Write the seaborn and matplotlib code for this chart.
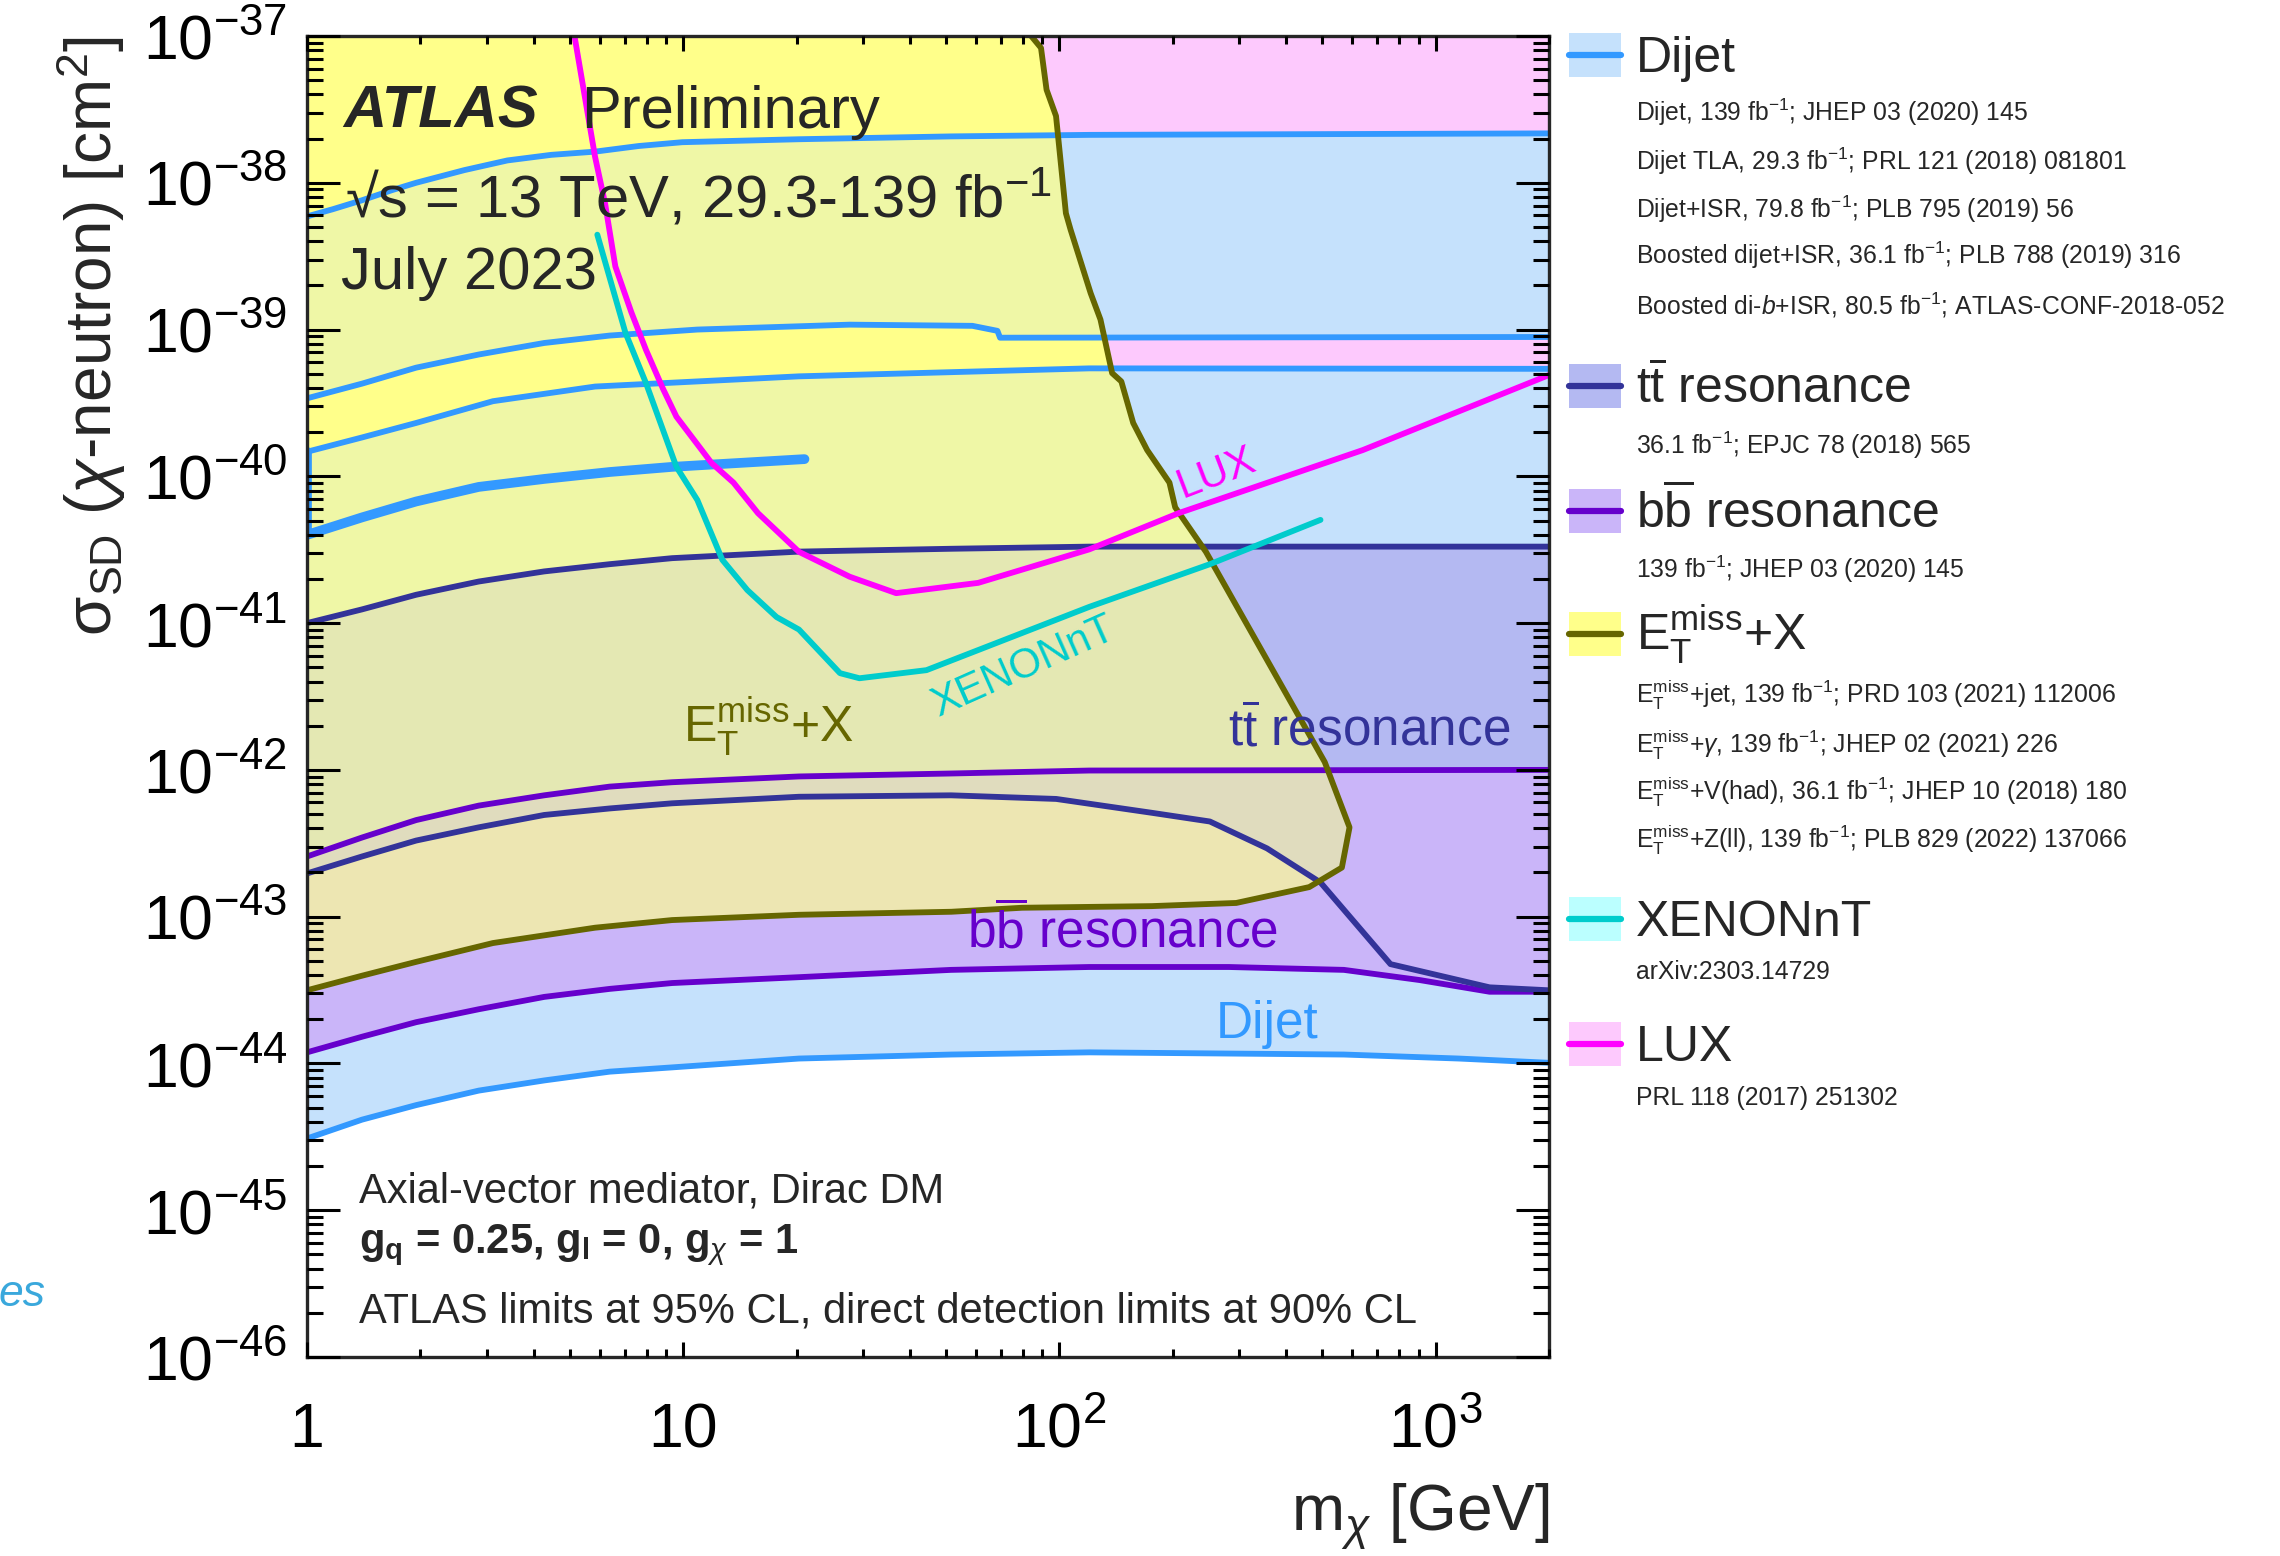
import numpy as np
import seaborn as sns
import matplotlib.pyplot as plt
from matplotlib.patches import Polygon, Rectangle
from matplotlib.lines import Line2D
from matplotlib.ticker import FixedLocator, FixedFormatter, LogLocator, NullFormatter

# --- values (m_chi in GeV, sigma_SD in cm^2) ---
dijet_a_top_x = [1, 1.17, 1.40, 1.68, 1.95, 2.62, 3.41, 4.46, 5.83, 7.61, 9.94, 20.3, 51.5, 120, 2000]
dijet_a_top_y = [5.9e-39, 6.6e-39, 7.6e-39, 8.9e-39, 1.0e-38, 1.22e-38, 1.42e-38, 1.55e-38, 1.63e-38,
                 1.78e-38, 1.89e-38, 1.98e-38, 2.07e-38, 2.12e-38, 2.17e-38]
dijet_a_bot_x = [1, 1.40, 1.95, 2.86, 4.27, 6.37, 10.9, 27.7, 58.7, 68.4, 69.5, 2000]
dijet_a_bot_y = [3.4e-40, 4.28e-40, 5.5e-40, 6.76e-40, 8.1e-40, 9.1e-40, 1.0e-39, 1.08e-39, 1.06e-39,
                 9.8e-40, 8.8e-40, 8.9e-40]
dijet_b_top_x = [1, 1.40, 1.95, 3.12, 5.83, 20.3, 120, 2000]
dijet_b_top_y = [1.47e-40, 1.84e-40, 2.31e-40, 3.25e-40, 4.09e-40, 4.8e-40, 5.44e-40, 5.4e-40]
dijet_isr_x = [1, 1, 1.40, 1.95, 2.86, 4.27, 6.37, 9.34, 21.0]
dijet_isr_y = [1.47e-40, 3.99e-41, 5.25e-41, 6.74e-41, 8.47e-41, 9.6e-41, 1.07e-40, 1.16e-40, 1.31e-40]
dijet_b_bot_x = [1, 1.40, 1.95, 2.86, 4.27, 6.37, 9.34, 20.3, 51.5, 120, 570, 1152, 2000]
dijet_b_bot_y = [3.08e-45, 4.14e-45, 5.2e-45, 6.53e-45, 7.66e-45, 8.79e-45, 9.4e-45, 1.08e-44, 1.15e-44,
                 1.19e-44, 1.15e-44, 1.08e-44, 1.01e-44]

tt_top_x = [1, 1.40, 1.95, 2.86, 4.27, 6.37, 9.34, 20.3, 51.5, 120, 2000]
tt_top_y = [1.0e-41, 1.24e-41, 1.56e-41, 1.92e-41, 2.25e-41, 2.52e-41, 2.77e-41, 3.07e-41, 3.21e-41,
            3.32e-41, 3.32e-41]
tt_bot_x = [1, 1.40, 1.95, 2.86, 4.27, 6.37, 9.34, 20.3, 51.5, 98, 176, 251, 356, 494, 758, 1390, 2000]
tt_bot_y = [1.97e-43, 2.57e-43, 3.3e-43, 4.06e-43, 4.93e-43, 5.46e-43, 5.92e-43, 6.56e-43, 6.71e-43,
            6.34e-43, 5.1e-43, 4.45e-43, 2.92e-43, 1.71e-43, 4.75e-44, 3.3e-44, 3.15e-44]

bb_top_x = [1, 1.40, 1.95, 2.86, 4.27, 6.37, 9.34, 20.3, 51.5, 120, 2000]
bb_top_y = [2.57e-43, 3.46e-43, 4.55e-43, 5.71e-43, 6.71e-43, 7.69e-43, 8.24e-43, 9.02e-43, 9.45e-43,
            9.9e-43, 1.0e-42]
bb_bot_x = [1, 1.40, 1.95, 2.86, 4.27, 6.37, 9.34, 20.3, 51.5, 120, 282, 570, 906, 1390, 2000]
bb_bot_y = [1.19e-44, 1.52e-44, 1.91e-44, 2.34e-44, 2.84e-44, 3.22e-44, 3.53e-44, 3.87e-44, 4.34e-44,
            4.54e-44, 4.54e-44, 4.34e-44, 3.7e-44, 3.08e-44, 3.08e-44]

met_x = [84.1, 89.3, 92.4, 97.9, 104, 107, 121, 128.5, 138, 146, 157, 171, 196, 203, 245,
         507, 590, 563, 461, 295, 176, 79.5, 51.6, 20.3, 9.34, 5.83, 3.12, 1.95, 1.40, 1]
met_y = [1e-37, 8.3e-38, 4.3e-38, 2.85e-38, 6.2e-39, 4.8e-39, 1.77e-39, 1.17e-39, 5.05e-40,
         4.43e-40, 2.31e-40, 1.51e-40, 9.06e-41, 6.15e-41, 3.06e-41, 1.13e-42, 4.06e-43,
         2.16e-43, 1.59e-43, 1.24e-43, 1.18e-43, 1.15e-43, 1.08e-43, 1.03e-43, 9.48e-44,
         8.41e-44, 6.61e-44, 4.92e-44, 3.96e-44, 3.15e-44]

lux_x = [5.14, 5.83, 6.2, 6.6, 7.28, 7.96, 8.85, 9.59, 11.9, 13.6, 15.8, 20.3, 27.7, 36.8, 60.8,
         120, 208, 640, 2000]
lux_y = [1e-37, 1.5e-38, 7.2e-39, 2.69e-39, 1.31e-39, 7.28e-40, 3.91e-40, 2.55e-40, 1.23e-40,
         9.06e-41, 5.61e-41, 3.06e-41, 2.07e-41, 1.6e-41, 1.88e-41, 3.18e-41, 5.63e-41, 1.51e-40, 4.9e-40]

xenon_x = [5.91, 7.02, 7.96, 9.59, 10.9, 12.7, 14.8, 17.7, 20.3, 26.1, 29.4, 44.3, 120, 251, 494]
xenon_y = [4.43e-39, 9.51e-40, 4.32e-40, 1.16e-40, 6.9e-41, 2.7e-41, 1.68e-41, 1.1e-41, 9.04e-42,
           4.56e-42, 4.21e-42, 4.78e-42, 1.29e-41, 2.52e-41, 5.05e-41]

xtick_vals = [1, 10, 100, 1000]
xtick_labels = ["1", "10", "$10^{2}$", "$10^{3}$"]
ytick_vals = [1e-46, 1e-45, 1e-44, 1e-43, 1e-42, 1e-41, 1e-40, 1e-39, 1e-38, 1e-37]
ytick_labels = ["$10^{-46}$", "$10^{-45}$", "$10^{-44}$", "$10^{-43}$", "$10^{-42}$",
                "$10^{-41}$", "$10^{-40}$", "$10^{-39}$", "$10^{-38}$", "$10^{-37}$"]

tt_label = r"t$\overline{\mathrm{t}}$ resonance"
bb_label = r"b$\overline{\mathrm{b}}$ resonance"
met_label = r"$\mathrm{E_{T}^{miss}}$+X"
legend_titles = ["Dijet", tt_label, bb_label, met_label, "XENONnT", "LUX"]
dijet_refs = [r"Dijet, 139 fb$^{-1}$; JHEP 03 (2020) 145",
              r"Dijet TLA, 29.3 fb$^{-1}$; PRL 121 (2018) 081801",
              r"Dijet+ISR, 79.8 fb$^{-1}$; PLB 795 (2019) 56",
              r"Boosted dijet+ISR, 36.1 fb$^{-1}$; PLB 788 (2019) 316",
              r"Boosted di-$b$+ISR, 80.5 fb$^{-1}$; ATLAS-CONF-2018-052"]
tt_refs = [r"36.1 fb$^{-1}$; EPJC 78 (2018) 565"]
bb_refs = [r"139 fb$^{-1}$; JHEP 03 (2020) 145"]
met_refs = [r"$\mathrm{E_{T}^{miss}}$+jet, 139 fb$^{-1}$; PRD 103 (2021) 112006",
            r"$\mathrm{E_{T}^{miss}}$+$\gamma$, 139 fb$^{-1}$; JHEP 02 (2021) 226",
            r"$\mathrm{E_{T}^{miss}}$+V(had), 36.1 fb$^{-1}$; JHEP 10 (2018) 180",
            r"$\mathrm{E_{T}^{miss}}$+Z(ll), 139 fb$^{-1}$; PLB 829 (2022) 137066"]
xenon_refs = ["arXiv:2303.14729"]
lux_refs = ["PRL 118 (2017) 251302"]

# --- colours ---
c_dijet, f_dijet = "#3399ff", "#c5e1fc"
c_tt, f_tt = "#333399", "#b4b9f2"
c_bb, f_bb = "#6600cc", "#cab5f9"
c_met, f_met = "#666600", "#ffff8a"
c_xenon, f_xenon = "#00cccc", "#bbffff"
c_lux, f_lux = "#ff00ff", "#fdc9fd"
# shades where the MET+X region overlaps the others
f_met_dijet, f_met_tt, f_met_bb, f_met_bbtt = "#eff7a6", "#e4e8b3", "#ede6b2", "#e0dcbe"

# --- figure ---
W, H = 2280, 1556
sns.set_style("ticks")
plt.rcParams["font.family"] = ["Liberation Sans", "DejaVu Sans"]
plt.rcParams["mathtext.fontset"] = "custom"
plt.rcParams["mathtext.rm"] = "Liberation Sans"
plt.rcParams["mathtext.it"] = "Liberation Sans:italic"
plt.rcParams["mathtext.bf"] = "Liberation Sans:bold"
plt.rcParams["mathtext.sf"] = "Liberation Sans"

fig = plt.figure(figsize=(W / 100, H / 100), dpi=100)
ax = fig.add_axes([307 / W, 1 - 1357 / H, 1242 / W, 1321 / H])
ax.set_xscale("log")
ax.set_yscale("log")


def band(xt, yt, xb, yb):
    return list(xt) + list(xb)[::-1], list(yt) + list(yb)[::-1]


# filled regions
ax.fill(lux_x + [2000], lux_y + [1e-37], color=f_lux, lw=0, zorder=1.0)
met_px, met_py = met_x + [1], met_y + [1e-37]
ax.fill(met_px, met_py, color=f_met, lw=0, zorder=1.1)
met_clip = Polygon(np.column_stack([met_px, met_py]), closed=True, transform=ax.transData)

dijet_a = band(dijet_a_top_x, dijet_a_top_y, dijet_a_bot_x, dijet_a_bot_y)
dijet_b = band(dijet_b_top_x, dijet_b_top_y, dijet_b_bot_x, dijet_b_bot_y)
tt_band = band(tt_top_x, tt_top_y, tt_bot_x, tt_bot_y)
bb_band = band(bb_top_x, bb_top_y, bb_bot_x, bb_bot_y)
bbtt_band = band(bb_top_x, bb_top_y, tt_bot_x, tt_bot_y)

ax.fill(*dijet_a, color=f_dijet, lw=0, zorder=1.2)
ax.fill(*dijet_b, color=f_dijet, lw=0, zorder=1.2)
ax.fill(*tt_band, color=f_tt, lw=0, zorder=1.3)
ax.fill(*bb_band, color=f_bb, lw=0, zorder=1.4)
for poly, col, z in [(dijet_a, f_met_dijet, 1.5), (dijet_b, f_met_dijet, 1.5),
                     (tt_band, f_met_tt, 1.6), (bb_band, f_met_bb, 1.7),
                     (bbtt_band, f_met_bbtt, 1.8)]:
    for p in ax.fill(*poly, color=col, lw=0, zorder=z):
        p.set_clip_path(met_clip)


def curve(x, y, color, lw=4.2, z=3):
    sns.lineplot(x=x, y=y, sort=False, estimator=None, color=color,
                 linewidth=lw, ax=ax, zorder=z)


curve(dijet_a_top_x, dijet_a_top_y, c_dijet)
curve(dijet_a_bot_x, dijet_a_bot_y, c_dijet)
curve(dijet_b_top_x, dijet_b_top_y, c_dijet)
curve(dijet_isr_x, dijet_isr_y, c_dijet, lw=7)
curve(dijet_b_bot_x, dijet_b_bot_y, c_dijet)
curve(bb_top_x, bb_top_y, c_bb, z=3.1)
curve(bb_bot_x, bb_bot_y, c_bb, z=3.1)
curve(tt_top_x, tt_top_y, c_tt, z=3.2)
curve(tt_bot_x, tt_bot_y, c_tt, z=3.2)
curve(met_x, met_y, c_met, z=3.3)
curve(xenon_x, xenon_y, c_xenon, z=3.4)
curve(lux_x, lux_y, c_lux, z=3.5)

ax.set_xlim(1, 2000)
ax.set_ylim(1e-46, 1e-37)

# axes, ticks (ROOT-like: inside, on all sides)
ax.xaxis.set_major_locator(FixedLocator(xtick_vals))
ax.xaxis.set_major_formatter(FixedFormatter(xtick_labels))
ax.xaxis.set_minor_locator(LogLocator(base=10, subs=np.arange(2, 10), numticks=50))
ax.xaxis.set_minor_formatter(NullFormatter())
ax.yaxis.set_major_locator(FixedLocator(ytick_vals))
ax.yaxis.set_major_formatter(FixedFormatter(ytick_labels))
ax.yaxis.set_minor_locator(LogLocator(base=10, subs=np.arange(2, 10), numticks=50))
ax.yaxis.set_minor_formatter(NullFormatter())
ax.tick_params(which="both", direction="in", top=True, right=True, width=2.2, colors="black")
ax.tick_params(axis="x", which="major", length=11, labelsize=45, pad=65)
ax.tick_params(axis="x", which="minor", length=6)
ax.tick_params(axis="y", which="major", length=24, labelsize=45, pad=14)
ax.tick_params(axis="y", which="minor", length=11.5)
for t in ax.xaxis.get_major_ticks():
    t.label1.set_verticalalignment("baseline")
for s in ax.spines.values():
    s.set_linewidth(2.4)
    s.set_zorder(10)
ax.xaxis.set_zorder(10)
ax.yaxis.set_zorder(10)

ax.set_xlabel(r"m$_{\chi}$ [GeV]", fontsize=46, loc="right")
ax.xaxis.set_label_coords(1.0, -0.131)
ax.xaxis.label.set_verticalalignment("baseline")
ax.set_ylabel(r"$\mathrm{\sigma_{SD}}$ ($\chi$-neutron) [cm$^{2}$]", fontsize=46, loc="top")
ax.yaxis.set_label_coords(-0.144, 1.0)


def ftext(x, y, s, **kw):
    fig.text(x / W, 1 - y / H, s, **kw)


# labels inside the plot
ftext(343, 128, "ATLAS", fontsize=43, fontweight="bold", fontstyle="italic", va="baseline", zorder=20)
ftext(581, 128, "Preliminary", fontsize=43, va="baseline", zorder=20)
ftext(345, 218, "√s = 13 TeV, 29.3-139 fb$^{-1}$", fontsize=43, va="baseline", zorder=20)
ftext(341, 289, "July 2023", fontsize=43, va="baseline", zorder=20)
ftext(359, 1202, "Axial-vector mediator, Dirac DM", fontsize=30, va="baseline", zorder=20)
ftext(359, 1253, r"g$_\mathbf{q}$ = 0.25, g$_\mathbf{l}$ = 0, g$_{\chi}$ = 1", fontsize=30,
      fontweight="bold", va="baseline", zorder=20)
ftext(359, 1322, "ATLAS limits at 95% CL, direct detection limits at 90% CL", fontsize=30,
      va="baseline", zorder=20)

ftext(683, 743, met_label, fontsize=36, color=c_met, va="baseline", zorder=20)
ftext(1228, 746, tt_label, fontsize=37, color=c_tt, va="baseline", zorder=20)
ftext(967, 948, bb_label, fontsize=37, color=c_bb, va="baseline", zorder=20)
ftext(1216, 1038, "Dijet", fontsize=37, color=c_dijet, va="baseline", zorder=20)
ftext(1216, 473, "LUX", fontsize=30, color=c_lux, rotation=21, ha="center", va="center",
      rotation_mode="anchor", zorder=20)
ftext(1023, 667, "XENONnT", fontsize=30, color=c_xenon, rotation=24, ha="center", va="center",
      rotation_mode="anchor", zorder=20)
ftext(45, 1294, "es", fontsize=32, color="#3aa8dc", fontstyle="italic", ha="right", va="center")

# legend (built by hand, ROOT style)
entry_colors = [(f_dijet, c_dijet), (f_tt, c_tt), (f_bb, c_bb), (f_met, c_met),
                (f_xenon, c_xenon), (f_lux, c_lux)]
entry_refs = [dijet_refs, tt_refs, bb_refs, met_refs, xenon_refs, lux_refs]
entry_cy = [55, 386, 511, 634, 919, 1044]
ref_base = [[121, 170, 218, 264, 314], [454], [578], [703, 753, 800, 848], [979], [1105]]
for title, (fc, lc), refs, cy, rys in zip(legend_titles, entry_colors, entry_refs, entry_cy, ref_base):
    fig.add_artist(Rectangle((1569 / W, 1 - (cy + 22) / H), 52 / W, 44 / H,
                             transform=fig.transFigure, facecolor=fc, edgecolor="none"))
    fig.add_artist(Line2D([1569 / W, 1621 / W], [1 - cy / H, 1 - cy / H],
                          transform=fig.transFigure, color=lc, lw=4.5))
    ftext(1636, cy + 17, title, fontsize=36, va="baseline")
    for r, ry in zip(refs, rys):
        ftext(1636, ry, r, fontsize=17.8, va="baseline")

fig.savefig("out.png", dpi=100)
